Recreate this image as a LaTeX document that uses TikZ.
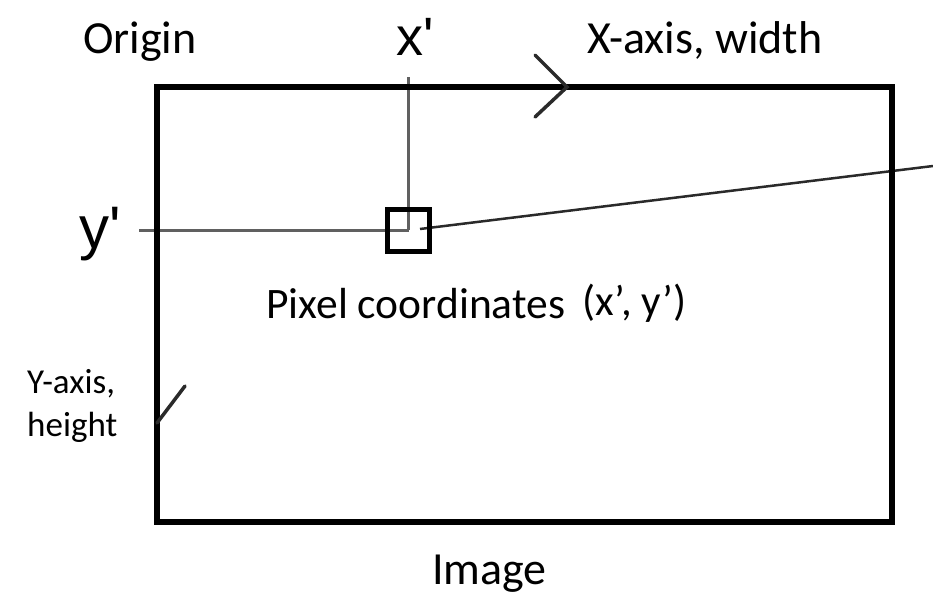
\documentclass[tikz,border=0pt]{standalone}
\usepackage{fontspec}
\setmainfont{Carlito}
\newfontfamily\arialf{Liberation Sans}
\definecolor{guide}{HTML}{606060}
\definecolor{darkline}{HTML}{2A2A2A}
\begin{document}
\begin{tikzpicture}[x=1pt,y=-1pt,
  lbl/.style={inner sep=0pt,anchor=base west,font=\fontsize{46}{46}\selectfont},
  sml/.style={inner sep=0pt,anchor=base west,font=\fontsize{35}{43}\selectfont,align=left},
  big/.style={inner sep=0pt,anchor=base west,font=\arialf\fontsize{54}{54}\selectfont},
  guideline/.style={draw=guide,line width=3pt},
  slant/.style={draw=darkline,line width=2.5pt},
  frame/.style={draw=black,line width=6pt},
  tick/.style={draw=darkline,line width=3.5pt,line cap=round},
  pixbox/.style={draw=black,line width=5pt,minimum size=42pt,inner sep=0pt}]
\useasboundingbox (0,0) rectangle (933,597);
% coordinates
\coordinate (pc) at (408.5,230);
\coordinate (xtop) at (408.5,77);
\coordinate (yleft) at (139,230);
\coordinate (sstart) at (420,229);
\coordinate (send) at (933,166);
\coordinate (tl) at (157,87);
\coordinate (br) at (892,522);
\coordinate (ca) at (535,55);
\coordinate (cb) at (567,87);
\coordinate (cc) at (535,117);
\coordinate (ya) at (157,423);
\coordinate (yb) at (185,386);
% guide lines
\draw[guideline] (xtop) -- (pc);
\draw[guideline] (yleft) -- (pc);
\draw[slant] (sstart) -- (send);
% image frame
\draw[frame] (tl) rectangle (br);
% axis arrows
\draw[tick,line join=miter] (ca) -- (cb) -- (cc);
\draw[tick] (ya) -- (yb);
% pixel square
\node[pixbox] (pix) at (pc) {};
% labels
\node[lbl] (origin) at (83,53) {Origin};
\node[big] (xp) at (396,55) {x'};
\node[lbl] (xaxis) at (587,53) {X-axis, width};
\node[big,font=\arialf\fontsize{60}{60}\selectfont] (yp) at (79,248) {y'};
\node[lbl,font=\fontsize{43.5}{43.5}\selectfont] (pixlbl) at (266,318) {Pixel coordinates};
\node[lbl,font=\fontsize{43}{43}\selectfont] (pixco) at (582,315) {(x’, y’)};
\node[sml] (yaxis1) at (27,393) {Y-axis,};
\node[sml] (yaxis2) at (27,436) {height};
\node[lbl] (imglbl) at (432,584) {Image};
\end{tikzpicture}
\end{document}
